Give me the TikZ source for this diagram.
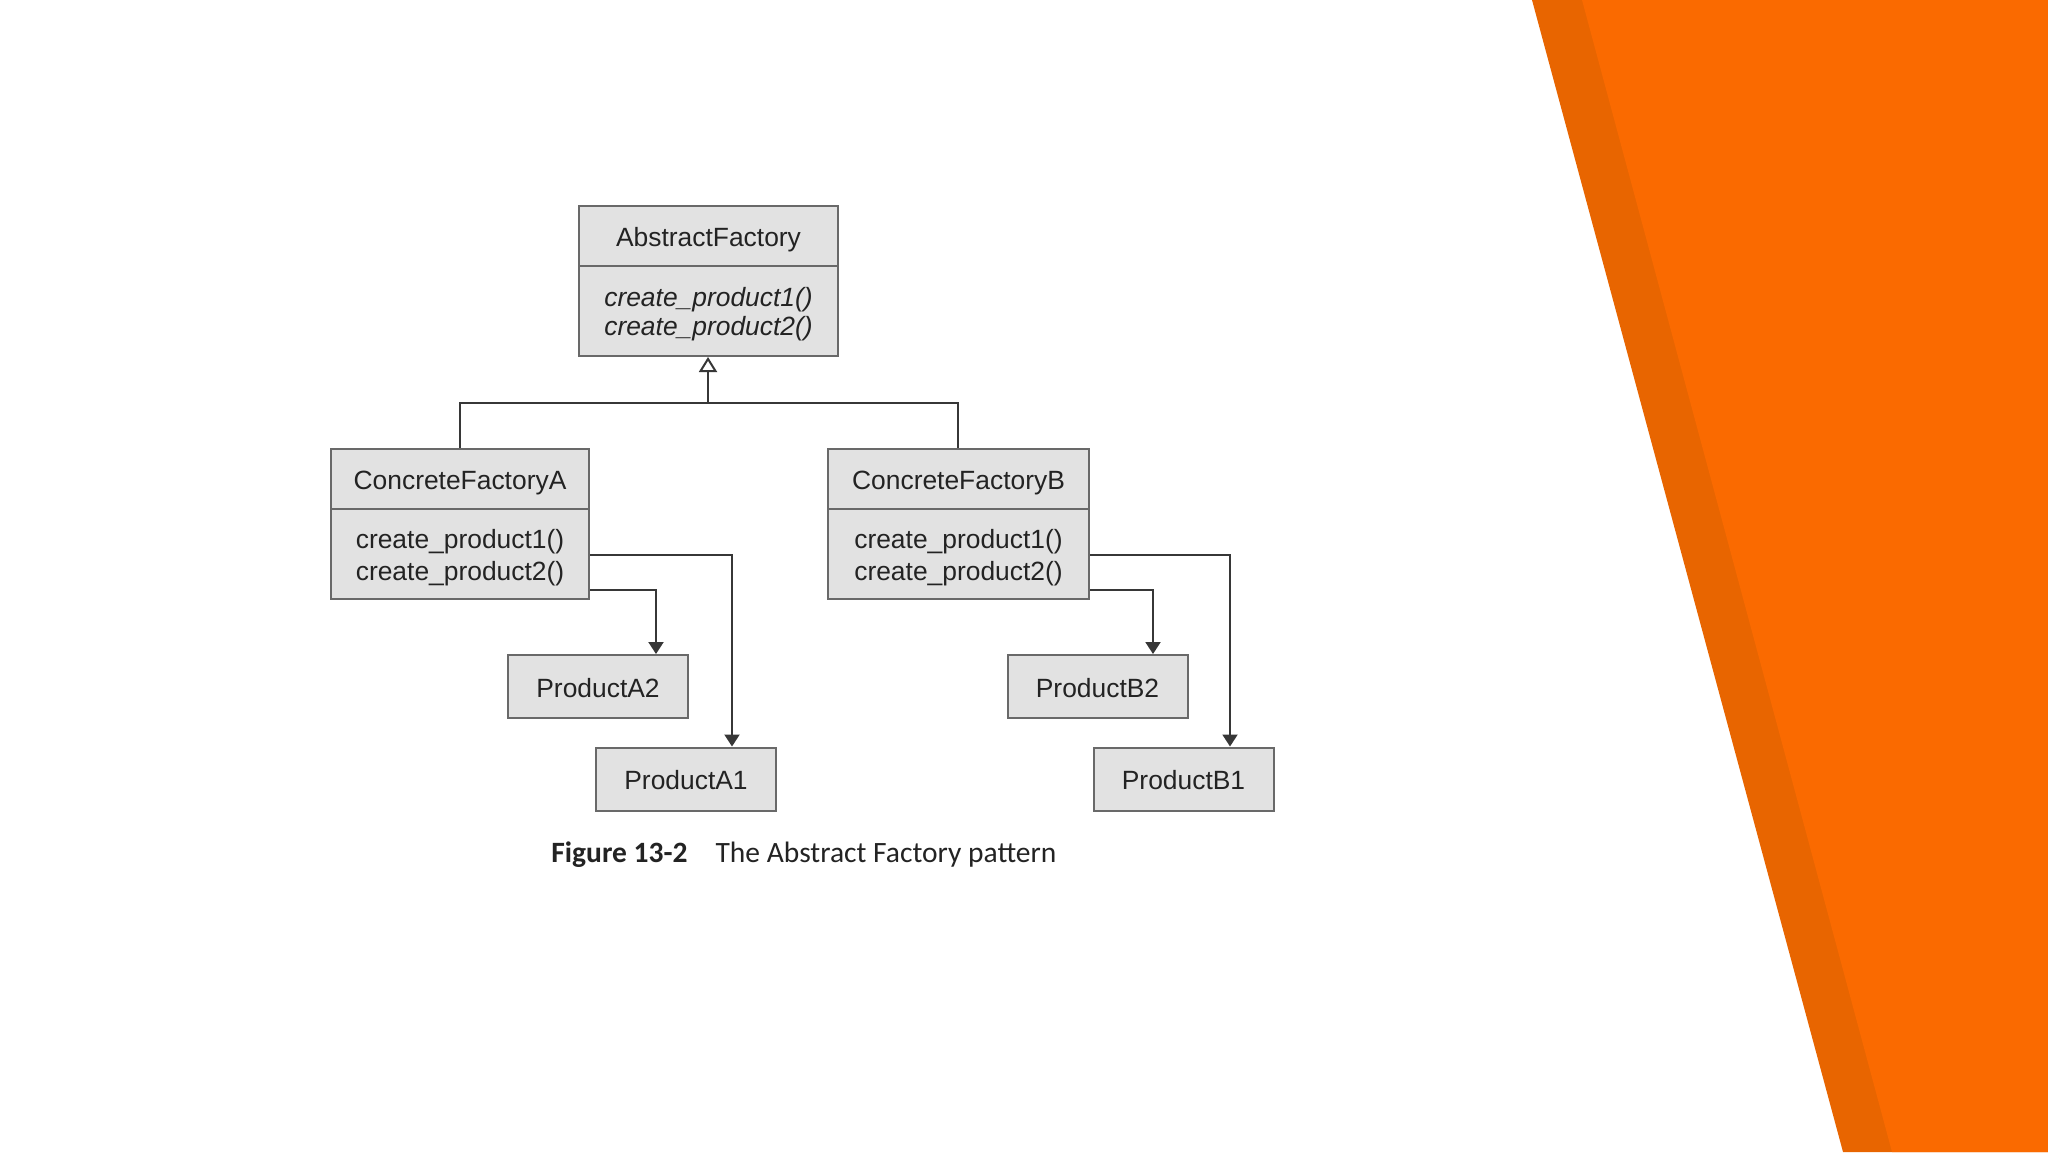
\documentclass[tikz,border=0pt]{standalone}
\usepackage{fontspec}
\setmainfont{Liberation Sans}
\newfontfamily\capfont{Carlito}
\usetikzlibrary{arrows.meta}
\definecolor{boxfill}{RGB}{226,226,226}
\definecolor{boxline}{RGB}{105,105,105}
\definecolor{txt}{RGB}{35,35,35}
\definecolor{wire}{RGB}{55,55,55}
\definecolor{orangeA}{RGB}{232,101,0}
\definecolor{orangeB}{RGB}{250,106,0}
\tikzset{
  umlbox/.style={draw=boxline, fill=boxfill, line width=1pt, inner sep=0pt, rectangle},
  prodbox/.style={umlbox, minimum width=90pt, minimum height=31.5pt},
  lbl/.style={inner sep=0pt, font=\fontsize{13.2}{15}\selectfont, text=txt, align=center},
  divider/.style={draw=boxline, line width=1pt},
  wirel/.style={draw=wire, line width=1pt},
  arr/.style={wirel, -{Triangle[length=6pt,width=7.5pt]}},
  inherit/.style={wirel, -{Triangle[open,length=7.5pt,width=9pt,fill=white]}}
}
\begin{document}
\begin{tikzpicture}[x=0.5pt,y=-0.5pt]
\useasboundingbox (0,0) rectangle (2048,1152);
\fill[white] (0,0) rectangle (2048,1152);
% orange decoration
\fill[orangeA] (1532,0) -- (2048,0) -- (2048,1152) -- (1843,1152) -- cycle;
\fill[orangeB] (1582,0) -- (2048,0) -- (2048,1152) -- (1892,1152) -- cycle;

% AbstractFactory
\node[umlbox, minimum width=129.5pt, minimum height=75pt] (af) at (708.5,281) {};
\draw[divider] (af.west |- 0,266) -- (af.east |- 0,266);
\node[lbl] (aft) at (708.5,239.5) {AbstractFactory};
\node[lbl] (afm1) at (708.5,300) {\itshape create\_product1()};
\node[lbl] (afm2) at (708.5,329) {\itshape create\_product2()};

% ConcreteFactoryA
\node[umlbox, minimum width=129pt, minimum height=75pt] (cfa) at (460,524) {};
\draw[divider] (cfa.west |- 0,509) -- (cfa.east |- 0,509);
\node[lbl] (cfat) at (460,483.5) {ConcreteFactoryA};
\node[lbl] (cfam1) at (460,541.5) {create\_product1()};
\node[lbl] (cfam2) at (460,573.5) {create\_product2()};

% ConcreteFactoryB
\node[umlbox, minimum width=130.5pt, minimum height=75pt] (cfb) at (958.5,524) {};
\draw[divider] (cfb.west |- 0,509) -- (cfb.east |- 0,509);
\node[lbl] (cfbt) at (958.5,483.5) {ConcreteFactoryB};
\node[lbl] (cfbm1) at (958.5,541.5) {create\_product1()};
\node[lbl] (cfbm2) at (958.5,573.5) {create\_product2()};

% Products
\node[prodbox] (pa2) at (598,686.5) {};
\node[lbl] (pa2t) at (598,688) {ProductA2};
\node[prodbox] (pa1) at (686,779) {};
\node[lbl] (pa1t) at (686,780.5) {ProductA1};
\node[prodbox] (pb2) at (1097.5,686.5) {};
\node[lbl] (pb2t) at (1097.5,688) {ProductB2};
\node[prodbox] (pb1) at (1183.5,779) {};
\node[lbl] (pb1t) at (1183.5,780.5) {ProductB1};

% inheritance
\coordinate (bus) at (708,403);
\draw[wirel] (cfa.north) |- (bus) -| (958,0 |- cfb.north);
\draw[inherit] (bus) -- (708,0 |- af.south);

% creation arrows
\draw[arr] (cfa.east |- 0,555) -| (732,0 |- pa1.north);
\draw[arr] (cfa.east |- 0,590) -| (656,0 |- pa2.north);
\draw[arr] (cfb.east |- 0,555) -| (1230,0 |- pb1.north);
\draw[arr] (cfb.east |- 0,590) -| (1153,0 |- pb2.north);

% caption
\node[anchor=base west, inner sep=0pt, text=txt, font=\capfont\fontsize{14.75}{17}\selectfont] (cap) at (551,862)
  {\textbf{Figure 13-2}\hspace{0.95em}The Abstract Factory pattern};
\end{tikzpicture}
\end{document}
